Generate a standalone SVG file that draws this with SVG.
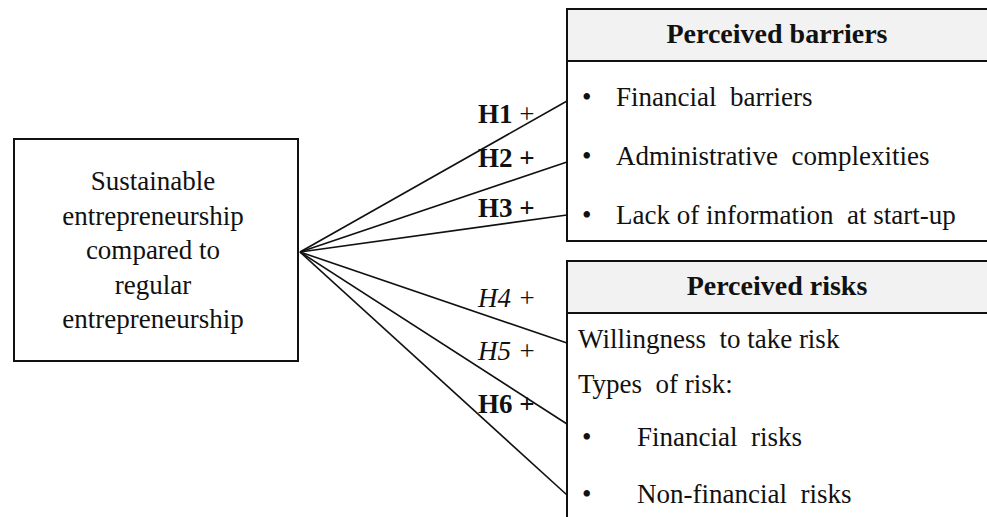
<svg xmlns="http://www.w3.org/2000/svg" width="987" height="517" viewBox="0 0 987 517">
<style>
text{font-family:"Liberation Serif","Times New Roman",serif;font-size:27px;fill:#111;white-space:pre}
.box{fill:#fff;stroke:#111;stroke-width:2}
.hdr{fill:#f2f2f2;stroke:#111;stroke-width:2}
.b{font-weight:bold}
.h{font-weight:bold;font-size:28px}
.i{font-style:italic}
.c{text-anchor:middle}
.conn line{stroke:#111;stroke-width:1.6}
</style>
<rect width="987" height="517" fill="#fff"/>
<g id="source">
<rect class="box" x="14" y="139" width="284" height="222"/>
<text class="c" x="153" y="190">Sustainable</text>
<text class="c" x="153" y="224.5">entrepreneurship</text>
<text class="c" x="153" y="259">compared to</text>
<text class="c" x="153" y="293.5">regular</text>
<text class="c" x="153" y="328">entrepreneurship</text>
</g>
<g id="barriers">
<rect class="box" x="567" y="9" width="430" height="232"/>
<rect class="hdr" x="567" y="9" width="430" height="52"/>
<text class="c h" x="777" y="43">Perceived barriers</text>
<text x="582" y="106">•</text><text x="616" y="106" xml:space="preserve">Financial  barriers</text>
<text x="582" y="165">•</text><text x="616" y="165" xml:space="preserve">Administrative  complexities</text>
<text x="582" y="224">•</text><text x="616" y="224" xml:space="preserve">Lack of information  at start-up</text>
</g>
<g id="risks">
<rect class="box" x="567" y="261" width="430" height="270"/>
<rect class="hdr" x="567" y="261" width="430" height="52"/>
<text class="c h" x="777" y="295">Perceived risks</text>
<text x="578" y="348" xml:space="preserve">Willingness  to take risk</text>
<text x="578" y="393" xml:space="preserve">Types  of risk:</text>
<text x="582" y="446">•</text><text x="637" y="446" xml:space="preserve">Financial  risks</text>
<text x="582" y="503">•</text><text x="637" y="503" xml:space="preserve">Non-financial  risks</text>
</g>
<g id="connectors" class="conn">
<line x1="300" y1="252" x2="567" y2="101"/>
<line x1="300" y1="252" x2="567" y2="162"/>
<line x1="300" y1="252" x2="567" y2="215"/>
<line x1="300" y1="252" x2="567" y2="343"/>
<line x1="300" y1="252" x2="567" y2="424"/>
<line x1="300" y1="252" x2="567" y2="495"/>
</g>
<g id="labels">
<text x="478" y="123"><tspan class="b">H1</tspan> +</text>
<text class="b" x="478" y="167">H2 +</text>
<text class="b" x="478" y="217">H3 +</text>
<text class="i" x="478" y="307">H4 +</text>
<text class="i" x="478" y="360">H5 +</text>
<text class="b" x="478" y="413">H6 +</text>
</g>
</svg>
